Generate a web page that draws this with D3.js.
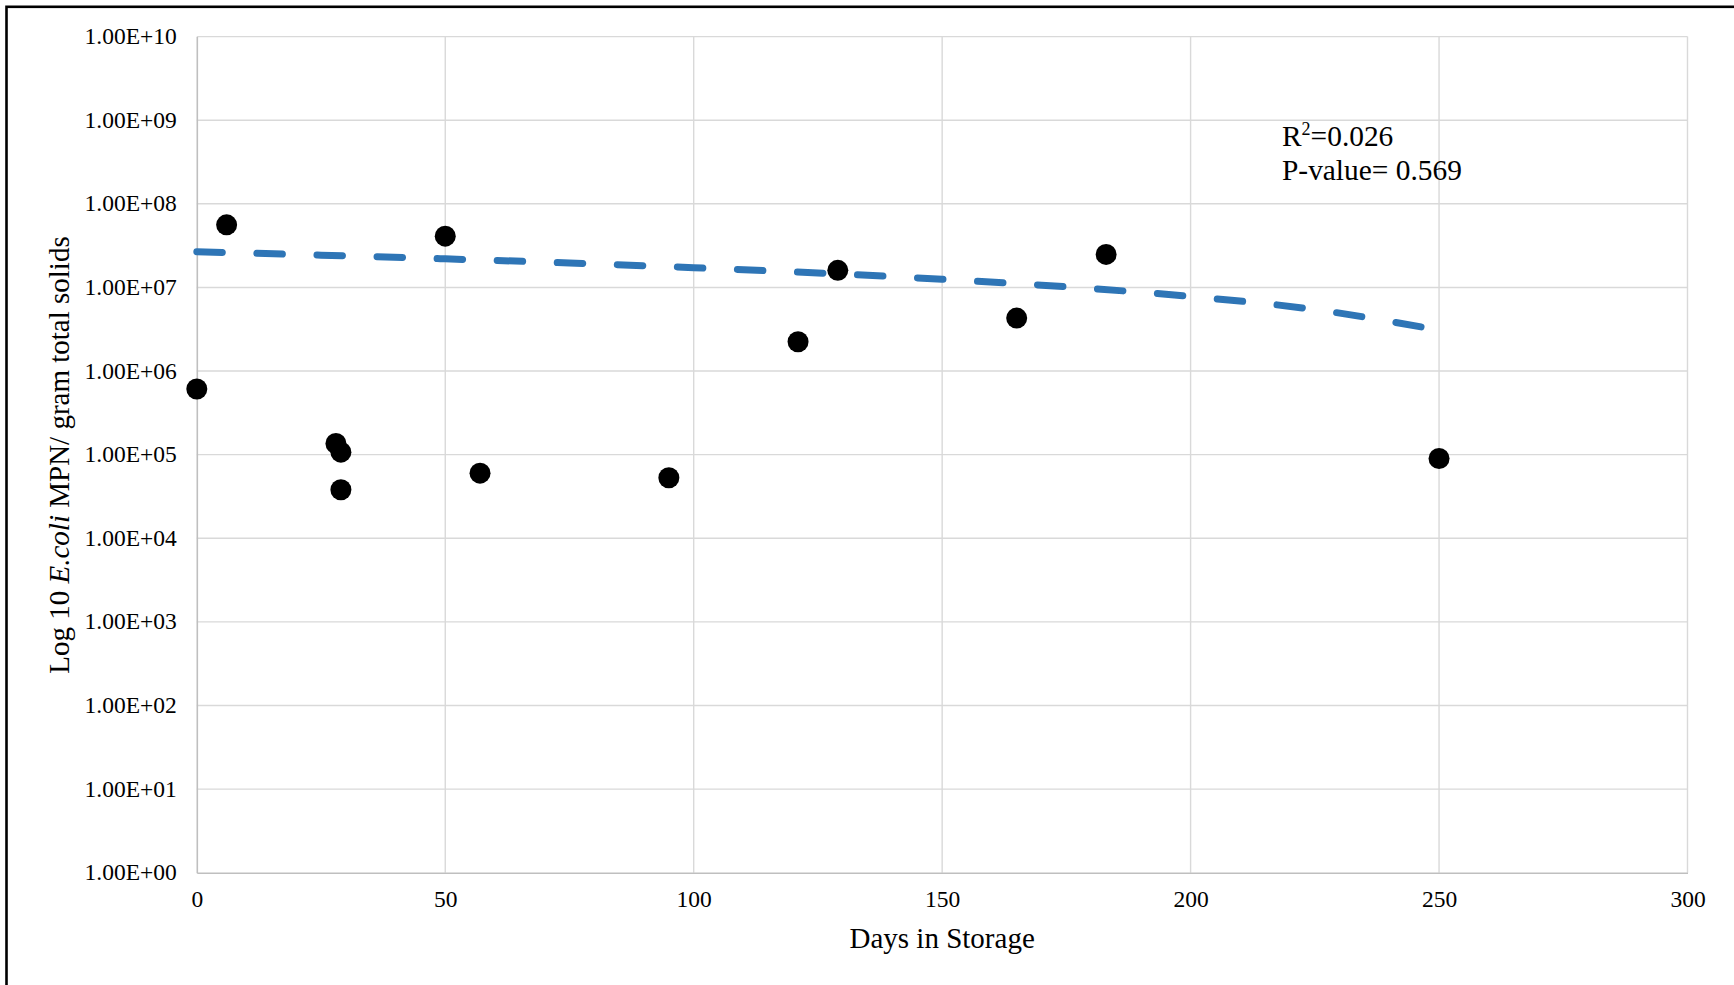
<!DOCTYPE html>
<html>
<head>
<meta charset="utf-8">
<script src="https://cdn.jsdelivr.net/npm/d3@7"></script>
<style>
  html, body { margin: 0; padding: 0; background: #fff; }
  svg { display: block; }
  text { font-family: "Liberation Serif", "Times New Roman", serif; fill: #000; }
</style>
</head>
<body>
<svg id="chart" width="1734" height="985"></svg>
<script>
// ---- data ----
const days   = [0, 6, 28, 29, 29, 50, 57, 95, 121, 129, 165, 183, 250];
const counts = [6.1e5, 5.6e7, 1.36e5, 1.07e5, 3.8e4, 4.1e7, 6.0e4, 5.3e4, 2.24e6, 1.6e7, 4.3e6, 2.48e7, 9.0e4];

// trendline readings (day -> value)
const trendDays   = [0, 25, 50, 75, 100, 125, 150, 175, 200, 225, 250];
const trendValues = [2.67e7, 2.434e7, 2.198e7, 1.961e7, 1.725e7, 1.489e7, 1.253e7, 1.017e7, 7.80e6, 5.44e6, 3.08e6];

const yTickValues = [1e0, 1e1, 1e2, 1e3, 1e4, 1e5, 1e6, 1e7, 1e8, 1e9, 1e10];
const yTickLabels = ["1.00E+00", "1.00E+01", "1.00E+02", "1.00E+03", "1.00E+04", "1.00E+05",
                     "1.00E+06", "1.00E+07", "1.00E+08", "1.00E+09", "1.00E+10"];
const xTickValues = [0, 50, 100, 150, 200, 250, 300];

const statLines = ["0.026", "P-value= 0.569"];

// ---- layout ----
const svg = d3.select("#chart");
const plotL = 196.8, plotR = 1687.5, plotT = 36.6, plotB = 872.7;

const x = d3.scaleLinear().domain([0, 300]).range([plotL, plotR]);
const y = d3.scaleLog().domain([1, 1e10]).range([plotB, plotT]);

// outer border
svg.append("rect")
  .attr("x", 6.5).attr("y", 6.8)
  .attr("width", 1800).attr("height", 1100)
  .attr("fill", "none").attr("stroke", "#000").attr("stroke-width", 2.6);

// gridlines
const grid = svg.append("g");
grid.selectAll("line.h").data(yTickValues.filter(v => v !== 1)).enter().append("line")
  .attr("x1", plotL).attr("x2", plotR)
  .attr("y1", d => y(d)).attr("y2", d => y(d))
  .attr("stroke", "#d9d9d9").attr("stroke-width", 1.4);
grid.selectAll("line.v").data(xTickValues.filter(v => v !== 0)).enter().append("line")
  .attr("x1", d => x(d)).attr("x2", d => x(d))
  .attr("y1", plotT).attr("y2", plotB)
  .attr("stroke", "#d9d9d9").attr("stroke-width", 1.4);

// axes
const yAxis = d3.axisLeft(y).tickValues(yTickValues)
  .tickFormat((d, i) => yTickLabels[i]).tickSize(0).tickPadding(20);
const gy = svg.append("g").attr("transform", `translate(${plotL},0)`).call(yAxis);
gy.select(".domain").attr("stroke", "#bfbfbf").attr("stroke-width", 1.6);
gy.selectAll("text").attr("font-size", 23.5).attr("font-family", "Liberation Serif").attr("dy", "0.30em");

const xAxis = d3.axisBottom(x).tickValues(xTickValues).tickFormat(d3.format("d")).tickSize(0).tickPadding(18);
const gx = svg.append("g").attr("transform", `translate(0,${plotB})`).call(xAxis);
gx.select(".domain").attr("stroke", "#bfbfbf").attr("stroke-width", 1.6);
gx.selectAll("text").attr("font-size", 23.5).attr("font-family", "Liberation Serif");

// trendline
const line = d3.line().x((d, i) => x(trendDays[i])).y(d => y(d)).curve(d3.curveMonotoneX);
svg.append("path")
  .attr("d", line(trendValues))
  .attr("fill", "none")
  .attr("stroke", "#2E75B6")
  .attr("stroke-width", 7)
  .attr("stroke-linecap", "round")
  .attr("stroke-dasharray", "25.5,34.6");

// points
svg.append("g").selectAll("circle").data(days).enter().append("circle")
  .attr("cx", d => x(d)).attr("cy", (d, i) => y(counts[i]))
  .attr("r", 10.5).attr("fill", "#000");

// axis titles
svg.append("text")
  .attr("x", (plotL + plotR) / 2).attr("y", 948)
  .attr("text-anchor", "middle").attr("font-size", 29)
  .text("Days in Storage");

const yt = svg.append("text")
  .attr("transform", "translate(69,455) rotate(-90)")
  .attr("text-anchor", "middle").attr("font-size", 29);
yt.append("tspan").text("Log 10 ");
yt.append("tspan").attr("font-style", "italic").text("E.coli");
yt.append("tspan").text(" MPN/ gram total solids");

// stats annotation
const t1 = svg.append("text").attr("x", 1282).attr("y", 146).attr("font-size", 29.4);
t1.append("tspan").text("R");
t1.append("tspan").attr("font-size", 18).attr("dy", -11).text("2");
t1.append("tspan").attr("dy", 11).text("=" + statLines[0]);
svg.append("text").attr("x", 1282).attr("y", 180).attr("font-size", 29.4).text(statLines[1]);
</script>
</body>
</html>
